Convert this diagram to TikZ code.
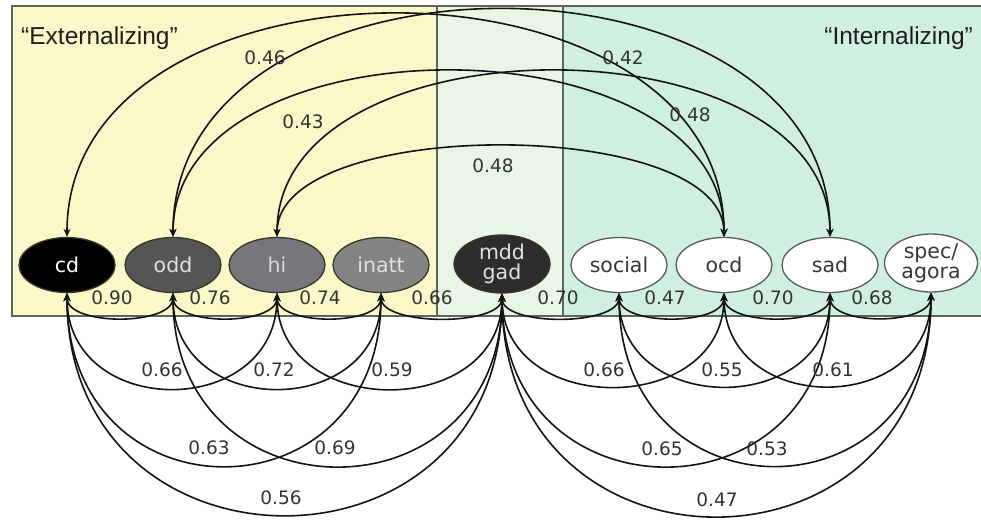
\documentclass[tikz,border=0pt]{standalone}
\usepackage{fontspec}
\setmainfont{DejaVu Sans}
\newfontfamily\headfont{Liberation Sans}
\usetikzlibrary{arrows.meta,shapes.geometric}
\definecolor{yelbg}{RGB}{250,247,201}
\definecolor{midbg}{RGB}{234,246,229}
\definecolor{tealbg}{RGB}{207,239,224}
\definecolor{framecol}{RGB}{95,100,90}
\definecolor{labgray}{RGB}{50,52,50}
\definecolor{headcol}{RGB}{30,30,30}
\definecolor{nodeline}{RGB}{55,55,40}
\definecolor{wline}{RGB}{90,90,90}
\definecolor{wtext}{RGB}{55,55,55}
\definecolor{oddgray}{RGB}{85,85,85}
\definecolor{higray}{RGB}{118,118,124}
\definecolor{inattgray}{RGB}{132,132,132}
\definecolor{mddgray}{RGB}{45,45,45}
\begin{document}
\begin{tikzpicture}[x=1pt,y=-1pt,
  varnode/.style={ellipse, minimum width=96pt, minimum height=55pt, inner sep=0pt,
    line width=1.3pt, align=center, font=\fontsize{20.5}{23}\selectfont},
  darknode/.style={varnode, draw=nodeline},
  whitenode/.style={varnode, fill=white, draw=wline, text=wtext},
  corr/.style={line width=1.6pt, draw=black!92,
    {Stealth[length=8pt,width=7pt]}-{Stealth[length=8pt,width=7pt]}},
  lbl/.style={font=\fontsize{18.5}{21}\selectfont, text=labgray, inner sep=0pt},
  head/.style={font=\headfont\fontsize{24.5}{27}\selectfont, text=headcol, inner sep=0pt}]
\useasboundingbox (0,0) rectangle (981,519);
\fill[white] (0,0) rectangle (981,519);
% panels
\fill[yelbg] (12,6) rectangle (437,316);
\fill[midbg] (437,6) rectangle (563,316);
\fill[tealbg] (563,6) rectangle (981,316);
\draw[framecol, line width=1.3pt] (981,6) -- (12,6) -- (12,316) -- (981,316);
\draw[framecol, line width=1.3pt] (437,6) -- (437,316);
\draw[framecol, line width=1.3pt] (563,6) -- (563,316);
% headings
\node[head, anchor=west] (ext) at (21,38) {“Externalizing”};
\node[head, anchor=east] (int) at (973,38) {“Internalizing”};
% nodes
\node[darknode, fill=black, text=white] (cd) at (67,265) {cd};
\node[darknode, fill=oddgray, text=white!88!black] (odd) at (173,265) {odd};
\node[darknode, fill=higray, text=white!85!black] (hi) at (277,265) {hi};
\node[darknode, fill=inattgray, text=white!88!black] (inatt) at (381,265) {inatt};
\node[darknode, fill=mddgray, text=white!88!black, minimum height=58pt] (mdd) at (502,264) {mdd\\[-3pt]gad};
\node[whitenode] (social) at (619,265) {social};
\node[whitenode] (ocd) at (724,265) {ocd};
\node[whitenode] (sad) at (830,265) {sad};
\node[whitenode, minimum width=93pt, minimum height=58pt] (spec) at (931,263) {spec/\\[-3pt]agora};
% upper correlations
\draw[corr] (cd.north) .. controls +(0,-297) and +(0,-297) .. (ocd.north);
\draw[corr] (odd.north) .. controls +(0,-303) and +(0,-303) .. (sad.north);
\draw[corr] (odd.north) .. controls +(0,-221) and +(0,-221) .. (ocd.north);
\draw[corr] (hi.north) .. controls +(0,-221) and +(0,-221) .. (sad.north);
\draw[corr] (hi.north) .. controls +(0,-121) and +(0,-121) .. (ocd.north);
% adjacent lower correlations
\draw[corr] (cd.south) .. controls +(0,33) and +(0,33) .. (odd.south);
\draw[corr] (odd.south) .. controls +(0,33) and +(0,33) .. (hi.south);
\draw[corr] (hi.south) .. controls +(0,33) and +(0,33) .. (inatt.south);
\draw[corr] (inatt.south) .. controls +(0,33) and +(0,33) .. (mdd.south);
\draw[corr] (mdd.south) .. controls +(0,33) and +(0,33) .. (social.south);
\draw[corr] (social.south) .. controls +(0,33) and +(0,33) .. (ocd.south);
\draw[corr] (ocd.south) .. controls +(0,33) and +(0,33) .. (sad.south);
\draw[corr] (sad.south) .. controls +(0,33) and +(0,33) .. (spec.south);
% level 1
\draw[corr] (cd.south) .. controls +(0,127) and +(0,127) .. (hi.south);
\draw[corr] (odd.south) .. controls +(0,127) and +(0,127) .. (inatt.south);
\draw[corr] (hi.south) .. controls +(0,127) and +(0,127) .. (mdd.south);
\draw[corr] (mdd.south) .. controls +(0,124) and +(0,124) .. (ocd.south);
\draw[corr] (social.south) .. controls +(0,124) and +(0,124) .. (sad.south);
\draw[corr] (ocd.south) .. controls +(0,124) and +(0,124) .. (spec.south);
% level 2
\draw[corr] (cd.south) .. controls +(0,230) and +(0,230) .. (inatt.south);
\draw[corr] (odd.south) .. controls +(0,230) and +(0,230) .. (mdd.south);
\draw[corr] (mdd.south) .. controls +(0,230) and +(0,230) .. (sad.south);
\draw[corr] (social.south) .. controls +(0,230) and +(0,230) .. (spec.south);
% level 3
\draw[corr] (cd.south) .. controls +(0,295) and +(0,295) .. (mdd.south);
\draw[corr] (mdd.south) .. controls +(0,297) and +(0,297) .. (spec.south);
% labels
\node[lbl] (u1) at (265,58) {0.46};
\node[lbl] (u2) at (623,58) {0.42};
\node[lbl] (u3) at (303,122) {0.43};
\node[lbl] (u4) at (690,115) {0.48};
\node[lbl] (u5) at (493,166) {0.48};
\node[lbl] (a1) at (112,298) {0.90};
\node[lbl] (a2) at (210,298) {0.76};
\node[lbl] (a3) at (320,298) {0.74};
\node[lbl] (a4) at (432,298) {0.66};
\node[lbl] (a5) at (558,298) {0.70};
\node[lbl] (a6) at (665,298) {0.47};
\node[lbl] (a7) at (773,298) {0.70};
\node[lbl] (a8) at (872,298) {0.68};
\node[lbl] (b1) at (162,370) {0.66};
\node[lbl] (b2) at (274,370) {0.72};
\node[lbl] (b3) at (392,370) {0.59};
\node[lbl] (b4) at (604,370) {0.66};
\node[lbl] (b5) at (722,370) {0.55};
\node[lbl] (b6) at (833,370) {0.61};
\node[lbl] (c1) at (209,448) {0.63};
\node[lbl] (c2) at (335,448) {0.69};
\node[lbl] (c3) at (662,449) {0.65};
\node[lbl] (c4) at (767,449) {0.53};
\node[lbl] (d1) at (281,498) {0.56};
\node[lbl] (d2) at (717,500) {0.47};
\end{tikzpicture}
\end{document}
